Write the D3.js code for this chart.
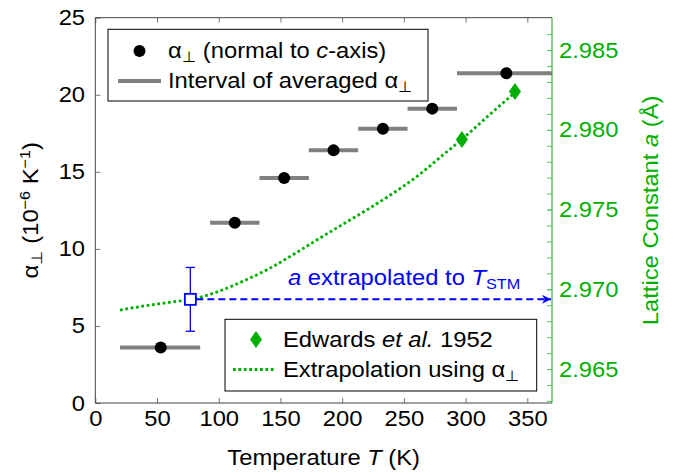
<!DOCTYPE html>
<html lang="en">
<head>
<meta charset="UTF-8">
<title>Thermal expansion and lattice constant</title>
<script src="https://d3js.org/d3.v7.min.js"></script>
<style>
  html, body { margin: 0; padding: 0; background: #fff; }
  svg { display: block; font-family: "Liberation Sans", Arial, sans-serif; }
</style>
</head>
<body>
<svg width="679" height="475"></svg>
<script>
// data
const alphaT = [53, 113, 153, 193, 233, 273, 333];
const alphaVal = [3.6, 11.7, 14.6, 16.4, 17.8, 19.1, 21.4];
const intervalLo = [20, 93, 133, 173, 213, 253, 293];
const intervalHi = [85, 133, 173, 213, 253, 293, 373];

const edwardsT = [297, 340];
const edwardsA = [2.9794, 2.9824];

const extrapT = [20, 40, 60, 80, 100, 120, 140, 160, 180, 200, 220, 240, 260, 280, 300, 320, 340];
const extrapA = [2.96870, 2.96896, 2.96918, 2.96940, 2.96987, 2.97052, 2.97126, 2.97216, 2.97312,
                 2.97405, 2.97498, 2.97596, 2.97704, 2.97831, 2.97961, 2.98099, 2.98234];

const stmT = 77, stmA = 2.96937, stmErr = 0.002;

const xTicks = [0, 50, 100, 150, 200, 250, 300, 350];
const yTicks = [0, 5, 10, 15, 20, 25];
const rTicks = [2.965, 2.970, 2.975, 2.980, 2.985];
const rMinor = d3.range(2963, 2987).map(v => v / 1000);

const green = "#00b000";
const blue = "#0000ff";
const fs = 22;
const sx = 1.08; // the original glyphs are a little wider than Liberation Sans

const svg = d3.select("svg");
const L = 95.3, R = 552, T = 17.7, B = 403;

const x = d3.scaleLinear().domain([0, 370]).range([L, R]);
const y = d3.scaleLinear().domain([0, 25]).range([B, T]);
const yR = d3.scaleLinear().domain([2.96287, 2.98703]).range([B, T]);

const defs = svg.append("defs");
defs.append("clipPath").attr("id", "plot")
  .append("rect").attr("x", L).attr("y", T).attr("width", R - L).attr("height", B - T);
defs.append("marker")
  .attr("id", "arrow").attr("viewBox", "0 0 10 10").attr("refX", 10).attr("refY", 5)
  .attr("markerWidth", 4.5).attr("markerHeight", 4.5).attr("markerUnits", "strokeWidth")
  .attr("orient", "auto")
  .append("path").attr("d", "M0,0 L10,5 L0,10 L3,5 Z").attr("fill", blue);

// text placed at (px,py), stretched horizontally
function label(parent, px, py, rot) {
  return parent.append("text")
    .attr("transform", `translate(${px},${py})${rot ? ` rotate(${rot})` : ""} scale(${sx},1)`)
    .attr("font-size", fs);
}

// axes (ticks pointing inward)
function styleAxis(g, col) {
  g.select(".domain").remove();
  g.selectAll(".tick line").attr("stroke", col);
  g.selectAll(".tick text").attr("font-size", fs).attr("font-family", "inherit")
    .attr("transform", `scale(${sx},1)`);
}

svg.append("g").attr("transform", `translate(0,${B})`)
  .call(d3.axisBottom(x).tickValues(xTicks).tickSize(-5).tickPadding(7))
  .call(g => styleAxis(g, "#777"))
  .call(g => g.selectAll(".tick text").attr("fill", "#000"));

svg.append("g").attr("transform", `translate(0,${T})`)
  .call(d3.axisTop(x).tickValues(xTicks).tickSize(-5).tickFormat(""))
  .call(g => styleAxis(g, "#777"));

svg.append("g").attr("transform", `translate(${L},0)`)
  .call(d3.axisLeft(y).tickValues(yTicks).tickSize(-5).tickPadding(9.5))
  .call(g => styleAxis(g, "#777"))
  .call(g => g.selectAll(".tick text").attr("fill", "#000"));

svg.append("g").attr("transform", `translate(${R},0)`)
  .call(d3.axisRight(yR).tickValues(rMinor).tickSize(-5).tickFormat(""))
  .call(g => styleAxis(g, "#5cc45c"));

svg.append("g").attr("transform", `translate(${R},0)`)
  .call(d3.axisRight(yR).tickValues(rTicks).tickSize(-5).tickPadding(6.5).tickFormat(d3.format(".3f")))
  .call(g => styleAxis(g, "#5cc45c"))
  .call(g => g.selectAll(".tick text").attr("fill", green));

// frame
svg.append("path")
  .attr("d", `M${R},${T} H${L} V${B} H${R}`)
  .attr("fill", "none").attr("stroke", "#444").attr("stroke-width", 1);
svg.append("line").attr("x1", R).attr("x2", R).attr("y1", T).attr("y2", B)
  .attr("stroke", "#3cb43c").attr("stroke-width", 1.2);

const plot = svg.append("g").attr("clip-path", "url(#plot)");

// averaging intervals
plot.selectAll("line.interval")
  .data(alphaT.map((t, i) => ({ lo: intervalLo[i], hi: intervalHi[i], v: alphaVal[i] })))
  .join("line").attr("class", "interval")
  .attr("x1", d => x(d.lo)).attr("x2", d => x(d.hi))
  .attr("y1", d => y(d.v)).attr("y2", d => y(d.v))
  .attr("stroke", "#808080").attr("stroke-width", 4);

plot.selectAll("circle.alpha")
  .data(alphaT.map((t, i) => ({ t, v: alphaVal[i] })))
  .join("circle").attr("class", "alpha")
  .attr("cx", d => x(d.t)).attr("cy", d => y(d.v)).attr("r", 6).attr("fill", "#000");

// extrapolated lattice constant
const line = d3.line().x(d => x(d[0])).y(d => yR(d[1])).curve(d3.curveMonotoneX);
plot.append("path")
  .datum(extrapT.map((t, i) => [t, extrapA[i]]))
  .attr("d", line)
  .attr("fill", "none").attr("stroke", green).attr("stroke-width", 2.8)
  .attr("stroke-dasharray", "2.8,2.6");

const diamond = "M0,-8.5 L6,0 L0,8.5 L-6,0 Z";
plot.selectAll("path.edw")
  .data(edwardsT.map((t, i) => [t, edwardsA[i]]))
  .join("path").attr("class", "edw")
  .attr("d", diamond)
  .attr("transform", d => `translate(${x(d[0])},${yR(d[1])})`)
  .attr("fill", green);

// STM point with error bar and arrow
const px = x(stmT), py = yR(stmA);
const eb = svg.append("g").attr("stroke", blue).attr("fill", "none");
eb.append("line").attr("x1", px).attr("x2", px)
  .attr("y1", yR(stmA + stmErr)).attr("y2", yR(stmA - stmErr)).attr("stroke-width", 1.3);
[stmA + stmErr, stmA - stmErr].forEach(v => {
  eb.append("line").attr("x1", px - 4.7).attr("x2", px + 4.7)
    .attr("y1", yR(v)).attr("y2", yR(v)).attr("stroke-width", 1.3);
});
eb.append("line").attr("x1", px + 6).attr("x2", R - 1).attr("y1", py).attr("y2", py)
  .attr("stroke-width", 2).attr("stroke-dasharray", "7,4")
  .attr("marker-end", "url(#arrow)");
eb.append("rect").attr("x", px - 5.5).attr("y", py - 5.5).attr("width", 11).attr("height", 11)
  .attr("fill", "#fff").attr("stroke-width", 1.8);

const ann = label(svg, 288, 285).attr("fill", blue);
ann.append("tspan").attr("font-style", "italic").text("a");
ann.append("tspan").text(" extrapolated to ");
ann.append("tspan").attr("font-style", "italic").text("T");
ann.append("tspan").attr("font-size", 15).attr("dy", 4).text("STM");

// alpha with perpendicular subscript
function alphaPerp(t) {
  t.append("tspan").text("α");
  t.append("tspan").attr("font-size", 15).attr("dy", 4).text("⊥");
}

// legend 1
const lg1 = svg.append("g");
lg1.append("rect").attr("x", 108).attr("y", 29.3).attr("width", 320).attr("height", 71.7)
  .attr("fill", "#fff").attr("stroke", "#000").attr("stroke-width", 1);
lg1.append("circle").attr("cx", 139.5).attr("cy", 51).attr("r", 6).attr("fill", "#000");
const t1 = label(lg1, 168, 58.3);
alphaPerp(t1);
t1.append("tspan").attr("dy", -4).text("  (normal to ");
t1.append("tspan").attr("font-style", "italic").text("c");
t1.append("tspan").text("-axis)");
lg1.append("line").attr("x1", 118).attr("x2", 161).attr("y1", 81).attr("y2", 81)
  .attr("stroke", "#808080").attr("stroke-width", 4);
const t2 = label(lg1, 168, 88.3);
t2.append("tspan").text("Interval of averaged ");
alphaPerp(t2);

// legend 2
const lg2 = svg.append("g");
lg2.append("rect").attr("x", 225).attr("y", 319.3).attr("width", 311.7).attr("height", 71.7)
  .attr("fill", "#fff").attr("stroke", "#000").attr("stroke-width", 1);
lg2.append("path").attr("d", diamond).attr("transform", "translate(256,339.5)").attr("fill", green);
const t3 = label(lg2, 283, 347);
t3.append("tspan").text("Edwards ");
t3.append("tspan").attr("font-style", "italic").text("et al.");
t3.append("tspan").text(" 1952");
lg2.append("line").attr("x1", 233).attr("x2", 276).attr("y1", 369.5).attr("y2", 369.5)
  .attr("stroke", green).attr("stroke-width", 2.8).attr("stroke-dasharray", "2.8,2.6");
const t4 = label(lg2, 283, 377);
t4.append("tspan").text("Extrapolation using ");
alphaPerp(t4);

// axis titles
const xt = label(svg, (L + R) / 2, 465).attr("text-anchor", "middle");
xt.append("tspan").text("Temperature ");
xt.append("tspan").attr("font-style", "italic").text("T");
xt.append("tspan").text(" (K)");

const yt = label(svg, 38, (T + B) / 2, -90).attr("text-anchor", "middle");
yt.append("tspan").text("α");
yt.append("tspan").attr("font-size", 15).attr("dy", 4).text("⊥");
yt.append("tspan").attr("dy", -4).text(" (10");
yt.append("tspan").attr("font-size", 15).attr("dy", -8).text("−6");
yt.append("tspan").attr("dy", 8).text(" K");
yt.append("tspan").attr("font-size", 15).attr("dy", -8).text("−1");
yt.append("tspan").attr("dy", 8).text(")");

const rt = label(svg, 658, (T + B) / 2, -90).attr("text-anchor", "middle").attr("fill", green);
rt.append("tspan").text("Lattice Constant ");
rt.append("tspan").attr("font-style", "italic").text("a");
rt.append("tspan").text(" (Å)");
</script>
</body>
</html>
